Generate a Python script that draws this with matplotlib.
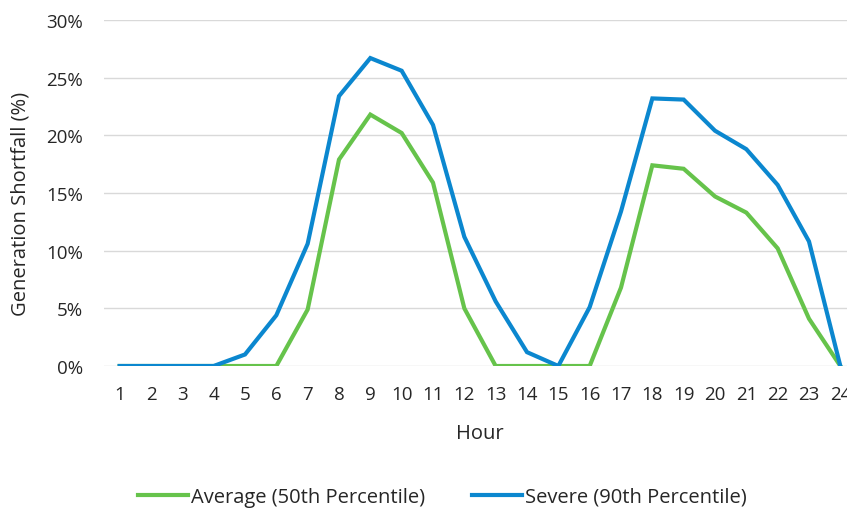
#Recreate generation shortfall chart by hour

#import modules
import matplotlib
matplotlib.use("Agg")
import matplotlib.pyplot as plt
from matplotlib.ticker import FuncFormatter

#Data
hours = list(range(1, 25))
average_50 = [0, 0, 0, 0, 0, 0, 4.9, 17.9, 21.8, 20.2, 15.9, 5.0,
              0, 0, 0, 0, 6.8, 17.4, 17.1, 14.7, 13.3, 10.2, 4.1, 0]
severe_90 = [0, 0, 0, 0, 1.0, 4.4, 10.6, 23.4, 26.7, 25.6, 20.9, 11.2,
             5.6, 1.2, 0, 5.1, 13.4, 23.2, 23.1, 20.4, 18.8, 15.7, 10.8, 0]
y_ticks = [0, 5, 10, 15, 20, 25, 30]

plt.rcParams['font.family'] = ['Open Sans', 'DejaVu Sans']

fig = plt.figure(figsize=(8.47, 5.10), dpi=100)
ax = fig.add_axes([104/847, 1 - 367/510, 752/847, 346/510])

ax.plot(hours, average_50, color="#66C34B", lw=3.0, label="Average (50th Percentile)", solid_joinstyle="miter")
ax.plot(hours, severe_90, color="#0B87CF", lw=3.0, label="Severe (90th Percentile)", solid_joinstyle="miter")

#Axes styling
ax.set_xlim(0.5, 24.5)
ax.set_ylim(0, 30)
ax.set_yticks(y_ticks)
ax.yaxis.set_major_formatter(FuncFormatter(lambda v, p: f"{v:.0f}%"))
ax.set_xticks(hours)
ax.grid(axis="y", color="#D9D9D9", lw=1)
ax.set_axisbelow(True)
for s in ax.spines.values():
    s.set_visible(False)
ax.tick_params(length=0, labelsize=13.5, colors="#262626")
ax.tick_params(axis="y", pad=15)
ax.tick_params(axis="x", pad=14)
ax.set_xlabel("Hour", fontsize=14.5, color="#262626", labelpad=14)
ax.set_ylabel("Generation Shortfall (%)", fontsize=14.5, color="#262626")
ax.yaxis.set_label_coords(-0.098, 0.47)

leg = fig.legend(loc="center left", bbox_to_anchor=(130/847, 1 - 498/510), ncol=2, frameon=False,
                 fontsize=14.5, handlelength=2.5, handletextpad=0.15, columnspacing=2.3,
                 borderaxespad=0)
for t in leg.get_texts():
    t.set_color("#262626")

fig.savefig("out.png", dpi=100)
